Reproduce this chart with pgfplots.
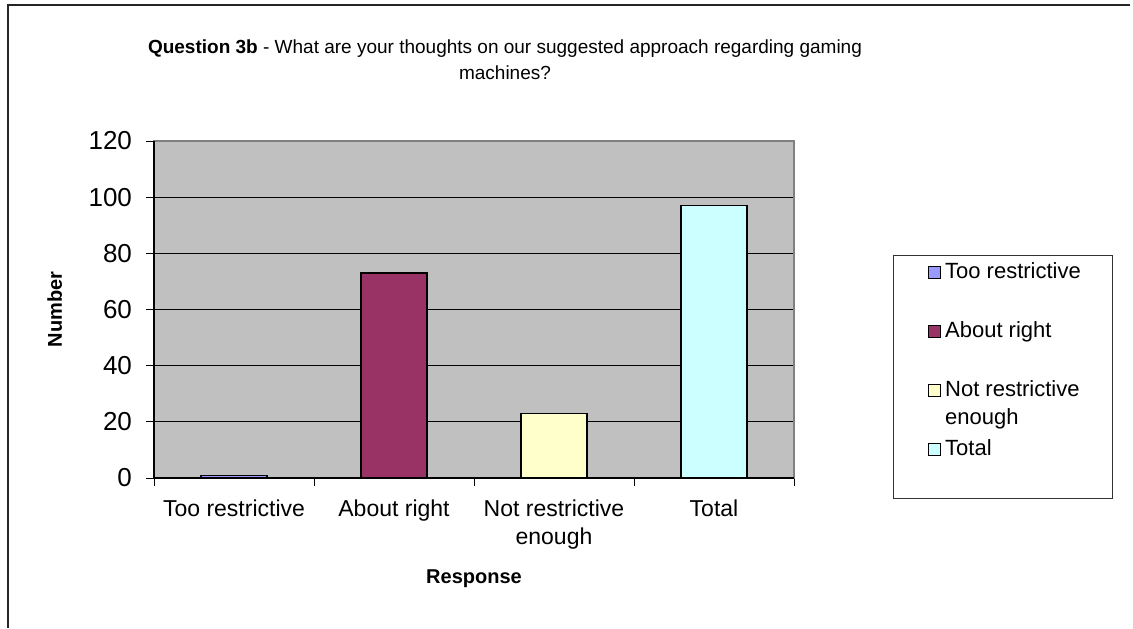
\documentclass[border=0pt]{standalone}
\usepackage{fontspec}
\setmainfont{Liberation Sans}
\usepackage{pgfplots}
\pgfplotsset{compat=1.18}

\definecolor{plotbg}{HTML}{C0C0C0}
\definecolor{cToo}{HTML}{9999FF}
\definecolor{cAbout}{HTML}{993366}
\definecolor{cNot}{HTML}{FFFFCC}
\definecolor{cTotal}{HTML}{CCFFFF}
\definecolor{framegrey}{HTML}{808080}

\begin{document}
\begin{tikzpicture}
\useasboundingbox (0,0) rectangle (566.5pt,-314pt);
% outer chart border (only top and left visible)
\draw[line width=1pt, black!85] (4pt,-314pt) -- (4pt,-2.5pt) -- (565pt,-2.5pt);
\node[align=center, font=\fontsize{9.5}{13}\selectfont] at (252.5pt,-30pt)
  {\textbf{Question 3b} - What are your thoughts on our suggested approach regarding gaming\\machines?};

\begin{axis}[
    at={(77pt,-239pt)}, anchor=south west,
    scale only axis, width=320pt, height=168.5pt,
    xmin=-0.5, xmax=3.5, ymin=0, ymax=120,
    ytick={0,20,...,120},
    xtick={-0.5,0.5,1.5,2.5,3.5},
    xticklabels={},
    extra x ticks={0,1,2,3},
    extra x tick labels={Too restrictive, About right, {Not restrictive\\enough}, Total},
    extra x tick style={major tick length=0pt},
    xtick pos=bottom, ytick pos=left,
    tick align=outside,
    major tick length=4pt,
    tick style={black, line width=0.5pt},
    ymajorgrids,
    grid style={black, line width=0.5pt},
    axis background/.style={fill=plotbg},
    axis line style={framegrey, line width=0.6pt},
    /pgf/number format/assume math mode=true,
    yticklabel style={font=\fontsize{13}{15}\selectfont, xshift=-3.5pt},
    xticklabel style={font=\fontsize{11.5}{14}\selectfont, align=center, yshift=-7.5pt},
    xlabel={\textbf{Response}},
    ylabel={\textbf{Number}},
    label style={font=\fontsize{10.8}{13}\selectfont},
    every axis x label/.style={at={(rel axis cs:0.5,-0.3)}, anchor=center},
    every axis y label/.style={at={(rel axis cs:-0.155,0.5)}, rotate=90, anchor=center},
    legend style={at={(rel axis cs:1.209,0.653)}, anchor=north west,
        draw=none, fill=none, inner sep=0pt, row sep=15pt,
        font=\fontsize{11}{14}\selectfont,
        nodes={text height=8pt, text depth=2.5pt, inner xsep=2pt}},
    legend cell align=left,
    every axis plot/.append style={ybar, bar width=33pt, bar shift=0pt,
        draw=black, line width=0.6pt},
    legend image code/.code={\draw[#1, line width=0.5pt] (0pt,-3pt) rectangle (6pt,3pt);},
    after end axis/.code={
        \draw[black!80, line width=0.5pt] (rel axis cs:1.1547,0.6617) rectangle (rel axis cs:1.4984,-0.0594);
        \draw[black, line width=0.6pt] (rel axis cs:0,1) -- (rel axis cs:0,0) -- (rel axis cs:1,0);
    },
]
\addplot[fill=cToo] coordinates {(0,1)};
\addplot[fill=cAbout] coordinates {(1,73)};
\addplot[fill=cNot] coordinates {(2,23)};
\addplot[fill=cTotal] coordinates {(3,97)};
\legend{Too restrictive, About right, {\begin{tabular}[t]{@{}l@{}}Not restrictive\\enough\end{tabular}}, Total}
\end{axis}
\end{tikzpicture}
\end{document}
